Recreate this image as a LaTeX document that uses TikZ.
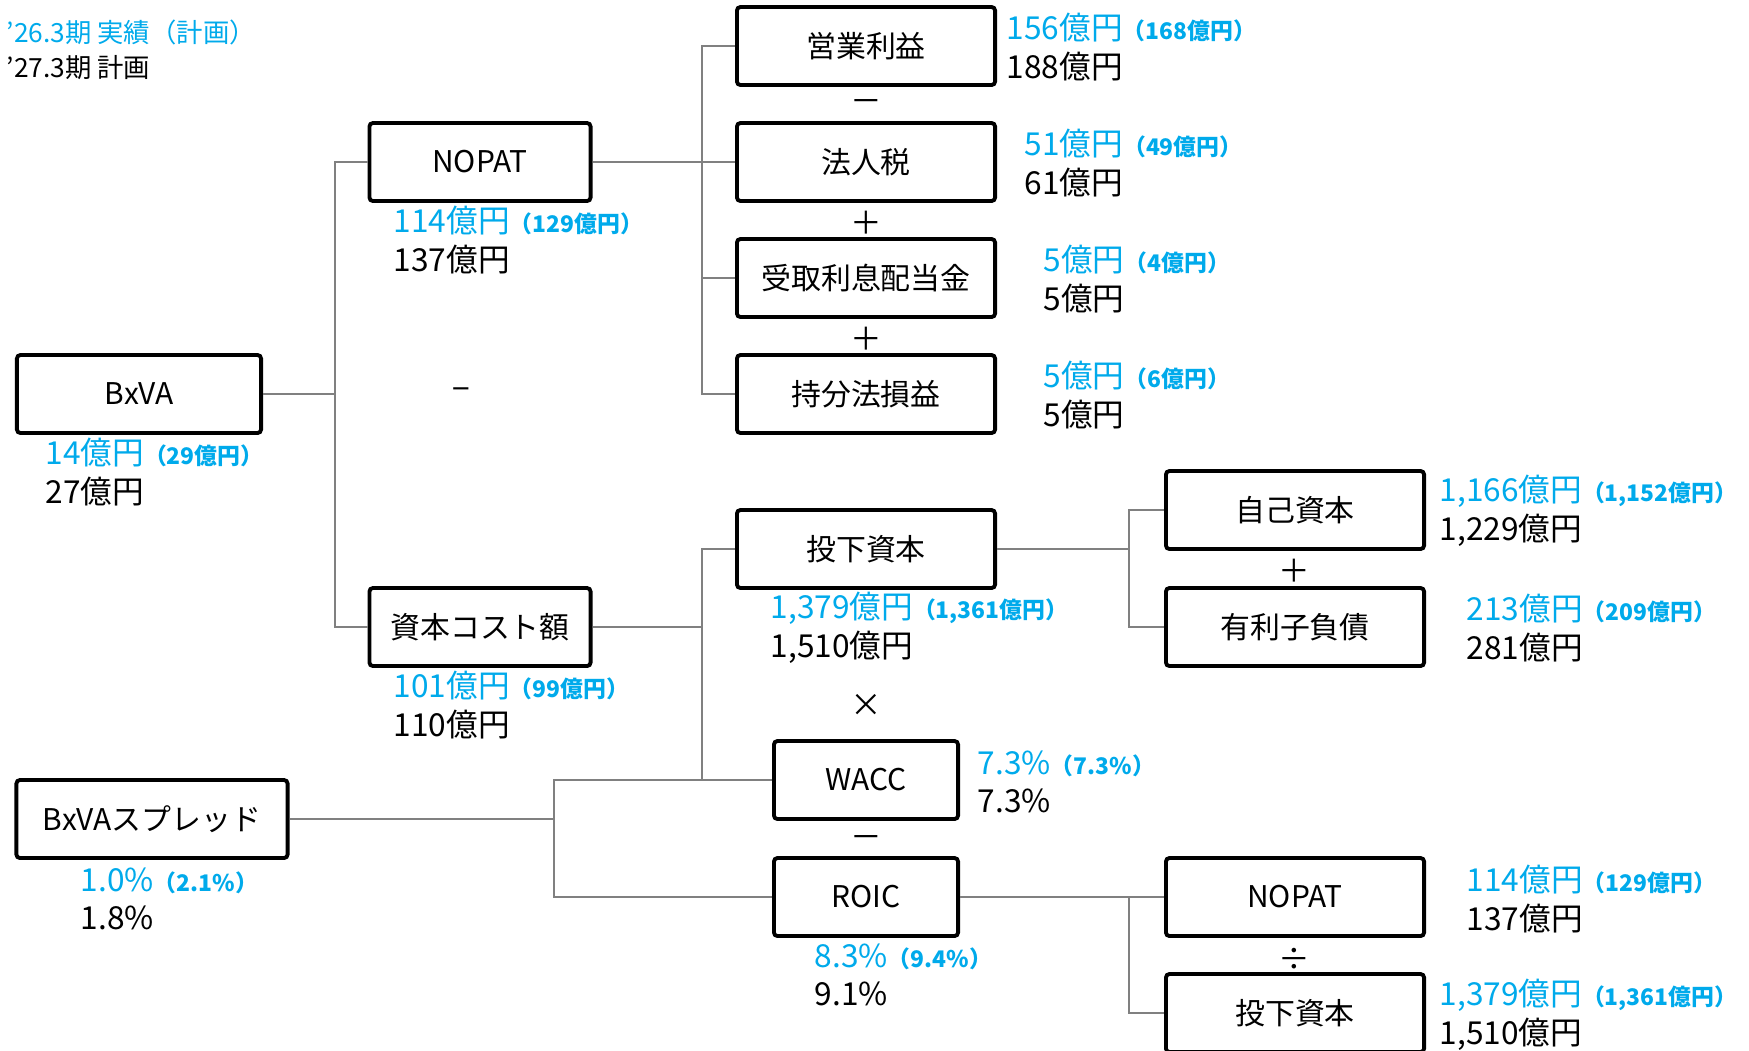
\documentclass[tikz,border=0pt]{standalone}
\usepackage{fontspec}
\setmainfont{Noto Sans CJK JP}
\definecolor{plancyan}{RGB}{0,170,235}
\newcommand{\amount}[3]{{\color{plancyan}#1{\fontsize{6.5}{6.5}\selectfont\bfseries（#2）}}\\#3}

\begin{document}
\begin{tikzpicture}[x=0.01cm, y=-0.01cm]
  \tikzstyle{box}=[draw, line width=1.1pt, rounded corners=1pt, minimum height=0.78cm, inner sep=0pt, font=\fontsize{8.5}{10}\selectfont]
  \tikzstyle{wide}=[box, minimum width=2.58cm]
  \tikzstyle{link}=[draw=black!50, line width=0.6pt]
  \tikzstyle{val}=[anchor=west, align=left, inner sep=0pt, font=\fontsize{9}{11}\selectfont]
  \tikzstyle{op}=[inner sep=0pt, font=\fontsize{9}{9}\selectfont]

  \useasboundingbox (0,0) rectangle (1749,1050);

  % legend
  \node[anchor=west, align=left, inner sep=0pt, font=\fontsize{7.5}{10}\selectfont] (legend) at (6,50)
    {{\color{plancyan}'26.3期 実績（計画）}\\'27.3期 計画};

  % boxes
  \node[box, minimum width=2.44cm] (bxva) at (139,394) {BxVA};
  \node[box, minimum width=2.21cm] (nopat) at (480,162) {NOPAT};
  \node[box, minimum width=2.21cm] (cost) at (480,627) {資本コスト額};
  \node[wide] (eigyo) at (866,46) {営業利益};
  \node[wide] (hojin) at (866,162) {法人税};
  \node[wide] (uketori) at (866,278) {受取利息配当金};
  \node[wide] (mochi) at (866,394) {持分法損益};
  \node[wide] (toka) at (866,549) {投下資本};
  \node[wide] (jiko) at (1295,510) {自己資本};
  \node[wide] (yurishi) at (1295,627) {有利子負債};
  \node[box, minimum width=2.71cm] (spread) at (152,819) {BxVAスプレッド};
  \node[box, minimum width=1.84cm] (wacc) at (866,780) {WACC};
  \node[box, minimum width=1.84cm] (roic) at (866,897) {ROIC};
  \node[wide] (nopatb) at (1295,897) {NOPAT};
  \node[wide] (tokab) at (1295,1013) {投下資本};

  % values
  \node[val] (bxva-v) at (45,472) {\amount{14億円}{29億円}{27億円}};
  \node[val] (nopat-v) at (393,240) {\amount{114億円}{129億円}{137億円}};
  \node[val] (cost-v) at (393,705) {\amount{101億円}{99億円}{110億円}};
  \node[val] (eigyo-v) at (1006,47) {\amount{156億円}{168億円}{188億円}};
  \node[val] (hojin-v) at (1024,163) {\amount{51億円}{49億円}{61億円}};
  \node[val] (uketori-v) at (1043,279) {\amount{5億円}{4億円}{5億円}};
  \node[val] (mochi-v) at (1043,395) {\amount{5億円}{6億円}{5億円}};
  \node[val] (toka-v) at (770,628) {\amount{1,379億円}{1,361億円}{1,510億円}};
  \node[val] (jiko-v) at (1439,511) {\amount{1,166億円}{1,152億円}{1,229億円}};
  \node[val] (yurishi-v) at (1466,628) {\amount{213億円}{209億円}{281億円}};
  \node[val] (spread-v) at (80,899) {\amount{1.0\%}{2.1\%}{1.8\%}};
  \node[val] (wacc-v) at (977,782) {\amount{7.3\%}{7.3\%}{7.3\%}};
  \node[val] (roic-v) at (814,975) {\amount{8.3\%}{9.4\%}{9.1\%}};
  \node[val] (nopatb-v) at (1466,899) {\amount{114億円}{129億円}{137億円}};
  \node[val] (tokab-v) at (1439,1015) {\amount{1,379億円}{1,361億円}{1,510億円}};

  % operators
  \node[op] (op1) at (866,106) {－};
  \node[op] (op2) at (866,223) {＋};
  \node[op] (op3) at (866,339) {＋};
  \node[op] (op4) at (461,394) {−};
  \node[op] (op5) at (1294,571) {＋};
  \node[op] (op6) at (866,705) {×};
  \node[op] (op7) at (866,842) {－};
  \node[op] (op8) at (1294,959) {÷};

  % connectors
  \coordinate (j1) at (335,394);
  \coordinate (j2) at (702,162);
  \coordinate (j3) at (702,627);
  \coordinate (j4) at (1129,549);
  \coordinate (j5) at (554,819);
  \coordinate (j6) at (1129,897);

  \draw[link] (bxva.east) -- (j1) |- (nopat.west);
  \draw[link] (j1) |- (cost.west);
  \draw[link] (nopat.east) -- (j2) |- (eigyo.west);
  \draw[link] (j2) |- (hojin.west);
  \draw[link] (j2) |- (uketori.west);
  \draw[link] (j2) |- (mochi.west);
  \draw[link] (cost.east) -- (j3) |- (toka.west);
  \draw[link] (j3) |- (wacc.west);
  \draw[link] (toka.east) -- (j4) |- (jiko.west);
  \draw[link] (j4) |- (yurishi.west);
  \draw[link] (spread.east) -- (j5) |- (wacc.west);
  \draw[link] (j5) |- (roic.west);
  \draw[link] (roic.east) -- (j6) |- (nopatb.west);
  \draw[link] (j6) |- (tokab.west);
\end{tikzpicture}
\end{document}
